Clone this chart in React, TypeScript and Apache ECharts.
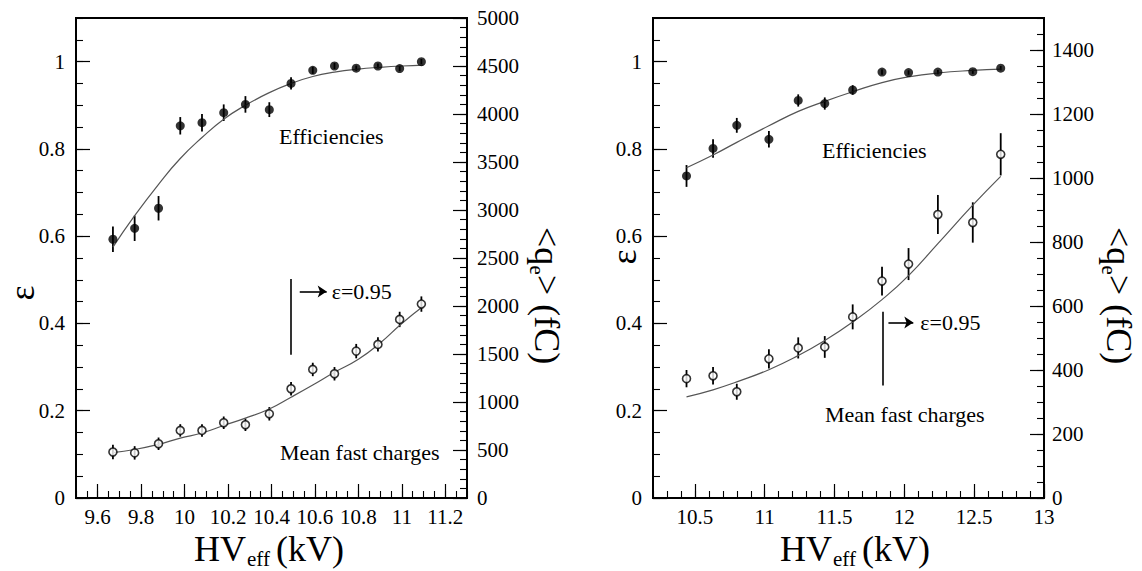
import React, { useEffect, useRef } from "react";
import * as echarts from "echarts";

// ---------- data ----------
// Left panel
const leftX = [9.67, 9.77, 9.88, 9.98, 10.08, 10.18, 10.28, 10.39, 10.49, 10.59, 10.69, 10.79, 10.89, 10.99, 11.09];
const leftEff = [0.593, 0.618, 0.664, 0.853, 0.86, 0.883, 0.902, 0.89, 0.95, 0.98, 0.99, 0.985, 0.99, 0.984, 1.0];
const leftEffErr = [0.029, 0.029, 0.028, 0.02, 0.02, 0.019, 0.019, 0.017, 0.014, 0.008, 0.007, 0.006, 0.006, 0.006, 0.006];
const leftQ = [479, 470, 565, 704, 704, 784, 763, 877, 1138, 1339, 1294, 1530, 1600, 1860, 2020];
const leftQErr = [75, 70, 65, 65, 65, 65, 65, 70, 70, 70, 70, 75, 75, 80, 80];
const leftFitX = [9.67, 9.77, 9.88, 9.98, 10.08, 10.18, 10.28, 10.39, 10.49, 10.59, 10.69, 10.8, 10.9, 11.0, 11.1];
const leftEffFit = [0.575, 0.647, 0.719, 0.778, 0.826, 0.868, 0.9, 0.929, 0.95, 0.966, 0.976, 0.983, 0.987, 0.99, 0.992];
const leftQFit = [473, 505, 559, 623, 677, 755, 832, 927, 1050, 1177, 1309, 1445, 1614, 1818, 2000];

// Right panel
const rightX = [10.44, 10.63, 10.8, 11.03, 11.24, 11.43, 11.63, 11.84, 12.03, 12.24, 12.49, 12.69];
const rightEff = [0.738, 0.801, 0.854, 0.822, 0.911, 0.904, 0.935, 0.976, 0.975, 0.976, 0.977, 0.985];
const rightEffErr = [0.025, 0.021, 0.017, 0.019, 0.014, 0.014, 0.011, 0.006, 0.005, 0.005, 0.005, 0.005];
const rightQ = [373, 382, 332, 435, 469, 472, 566, 678, 731, 886, 861, 1074];
const rightQErr = [27, 27, 25, 30, 33, 34, 39, 45, 50, 61, 63, 66];
const rightEffFit = [0.757, 0.786, 0.815, 0.853, 0.886, 0.909, 0.931, 0.952, 0.965, 0.974, 0.98, 0.983];
const rightQFit = [316, 338, 363, 401, 445, 492, 550, 620, 695, 795, 915, 1005];

// Axis ranges
const leftXRange = [9.5, 11.3];
const rightXRange = [10.2, 13];
const effRange = [0, 1.1];
const leftQRange = [0, 5000];
const rightQRange = [0, 1500];

// Tick labels
const leftXTicks = [9.6, 9.8, 10, 10.2, 10.4, 10.6, 10.8, 11, 11.2];
const rightXTicks = [10.5, 11, 11.5, 12, 12.5, 13];
const effTicks = [0, 0.2, 0.4, 0.6, 0.8, 1];
const leftQTicks = [0, 500, 1000, 1500, 2000, 2500, 3000, 3500, 4000, 4500, 5000];
const rightQTicks = [0, 200, 400, 600, 800, 1000, 1200, 1400];

// Annotation (ε = 0.95 marker) values
const leftMark = { x: 10.49, yTop: 0.502, yBot: 0.328, arrowY: 0.473, arrowX0: 10.53, arrowX1: 10.654 };
const rightMark = { x: 11.844, yTop: 0.427, yBot: 0.258, arrowY: 0.402, arrowX0: 11.886, arrowX1: 12.064 };

const FONT = "Liberation Serif";
const TICK_FS = 21;

function majorAxis(grid: number, range: number[], ticks: number[], position: string) {
  return {
    type: "value",
    gridIndex: grid,
    min: range[0],
    max: range[1],
    position,
    axisLine: { show: true, onZero: false, lineStyle: { color: "#000", width: 2 } },
    axisTick: { show: true, inside: true, length: 14, customValues: ticks, lineStyle: { color: "#000", width: 1.2 } },
    axisLabel: { show: false },
    splitLine: { show: false },
    minorTick: { show: false },
  };
}

function minorAxis(grid: number, range: number[], interval: number, position: string) {
  return {
    type: "value",
    gridIndex: grid,
    min: range[0],
    max: range[1],
    interval,
    position,
    axisLine: { show: false, onZero: false },
    axisTick: { show: true, inside: true, length: 7, lineStyle: { color: "#000", width: 1.1 } },
    axisLabel: { show: false },
    splitLine: { show: false },
  };
}

function errSeries(xi: number, yi: number, xs: number[], ys: number[], es: number[]) {
  return {
    type: "custom",
    xAxisIndex: xi,
    yAxisIndex: yi,
    z: 2,
    silent: true,
    encode: { x: 0, y: 1 },
    data: xs.map((x, i) => [x, ys[i], es[i]]),
    renderItem: (params: any, api: any) => {
      const x = api.value(0);
      const y = api.value(1);
      const e = api.value(2);
      const p1 = api.coord([x, y - e]);
      const p2 = api.coord([x, y + e]);
      return {
        type: "line",
        shape: { x1: p1[0], y1: p1[1], x2: p2[0], y2: p2[1] },
        style: { stroke: "#000", lineWidth: 1.8 },
      };
    },
  };
}

function fitSeries(xi: number, yi: number, xs: number[], ys: number[]) {
  return {
    type: "line",
    xAxisIndex: xi,
    yAxisIndex: yi,
    z: 3,
    silent: true,
    smooth: true,
    showSymbol: false,
    symbol: "none",
    lineStyle: { color: "#555", width: 1.2 },
    data: xs.map((x, i) => [x, ys[i]]),
  };
}

function pointSeries(xi: number, yi: number, xs: number[], ys: number[], open: boolean, mark?: any) {
  const s: any = {
    type: "scatter",
    xAxisIndex: xi,
    yAxisIndex: yi,
    z: 4,
    silent: true,
    symbol: "circle",
    symbolSize: open ? 8 : 9,
    itemStyle: open ? { color: "#fff", borderColor: "#000", borderWidth: 1.6 } : { color: "#000" },
    data: xs.map((x, i) => [x, ys[i]]),
  };
  if (mark) {
    s.markLine = {
      silent: true,
      symbol: ["none", "none"],
      symbolSize: 9,
      lineStyle: { color: "#000", width: 1.6, type: "solid" },
      label: { show: false },
      data: [
        [{ coord: [mark.x, mark.yTop] }, { coord: [mark.x, mark.yBot] }],
        [
          { coord: [mark.arrowX0, mark.arrowY], symbol: "none" },
          { coord: [mark.arrowX1, mark.arrowY], symbol: "arrow" },
        ],
      ],
    };
  }
  return s;
}

function txt(text: string, x: number, y: number, size: number, align = "left", rotation = 0) {
  return {
    type: "text",
    x,
    y,
    rotation,
    silent: true,
    style: {
      text,
      fill: "#000",
      font: `${size}px "${FONT}"`,
      align,
      verticalAlign: "middle",
    },
  };
}

function qTitle(x: number, y: number) {
  return {
    type: "group",
    x,
    y,
    rotation: -Math.PI / 2,
    silent: true,
    children: [txt("<q", 0, 0, 36), txt("e", 38.5, 10, 21), txt("> (fC)", 48, 0, 36)],
  };
}

const baseGraphic = [
  // y titles (epsilon)
  txt("ε", 22, 293, 36, "center", Math.PI / 2),
  txt("ε", 624, 257, 36, "center", Math.PI / 2),
  // right titles
  qTitle(547, 227),
  qTitle(1119, 227),
  // x titles
  txt("HV", 194, 549, 36),
  txt("eff", 247, 559, 21),
  txt("(kV)", 276, 549, 36),
  txt("HV", 780, 549, 36),
  txt("eff", 833, 559, 21),
  txt("(kV)", 862, 549, 36),
  // curve labels
  txt("Efficiencies", 279, 136, 22),
  txt("Mean fast charges", 280, 452, 22),
  txt("Efficiencies", 822, 150, 22),
  txt("Mean fast charges", 825, 414, 22),
];

function buildOption() {
  return {
    animation: false,
    backgroundColor: "#fff",
    textStyle: { fontFamily: FONT },
    grid: [
      { left: 76, top: 18, width: 391, height: 480, show: true, borderColor: "#000", borderWidth: 2, backgroundColor: "transparent" },
      { left: 653, top: 18, width: 391, height: 480, show: true, borderColor: "#000", borderWidth: 2, backgroundColor: "transparent" },
    ],
    xAxis: [
      majorAxis(0, leftXRange, leftXTicks, "bottom"),
      minorAxis(0, leftXRange, 0.05, "bottom"),
      majorAxis(1, rightXRange, rightXTicks, "bottom"),
      minorAxis(1, rightXRange, 0.1, "bottom"),
    ],
    yAxis: [
      majorAxis(0, effRange, effTicks, "left"),
      minorAxis(0, effRange, 0.05, "left"),
      majorAxis(0, leftQRange, leftQTicks, "right"),
      minorAxis(0, leftQRange, 100, "right"),
      majorAxis(1, effRange, effTicks, "left"),
      minorAxis(1, effRange, 0.05, "left"),
      majorAxis(1, rightQRange, rightQTicks, "right"),
      minorAxis(1, rightQRange, 50, "right"),
    ],
    series: [
      errSeries(0, 0, leftX, leftEff, leftEffErr),
      fitSeries(0, 0, leftFitX, leftEffFit),
      pointSeries(0, 0, leftX, leftEff, false, leftMark),
      errSeries(0, 2, leftX, leftQ, leftQErr),
      fitSeries(0, 2, leftFitX, leftQFit),
      pointSeries(0, 2, leftX, leftQ, true),

      errSeries(2, 4, rightX, rightEff, rightEffErr),
      fitSeries(2, 4, rightX, rightEffFit),
      pointSeries(2, 4, rightX, rightEff, false, rightMark),
      errSeries(2, 6, rightX, rightQ, rightQErr),
      fitSeries(2, 6, rightX, rightQFit),
      pointSeries(2, 6, rightX, rightQ, true),
    ],
    graphic: baseGraphic,
  };
}

// Tick labels placed with the axes' own scales (convertToPixel)
function tickLabels(chart: any) {
  const out: any[] = [];
  const px = (finder: any, v: number) => chart.convertToPixel(finder, v) as number;
  const panels = [
    { xi: 0, yEff: 0, yQ: 2, xr: leftXRange, xt: leftXTicks, qt: leftQTicks, qGap: 10, mark: leftMark, markGap: 5 },
    { xi: 2, yEff: 4, yQ: 6, xr: rightXRange, xt: rightXTicks, qt: rightQTicks, qGap: 8, mark: rightMark, markGap: 7 },
  ];
  panels.forEach((p) => {
    const bottom = px({ yAxisIndex: p.yEff }, effRange[0]);
    const left = px({ xAxisIndex: p.xi }, p.xr[0]);
    const right = px({ xAxisIndex: p.xi }, p.xr[1]);
    p.xt.forEach((v) => out.push(txt(String(v), px({ xAxisIndex: p.xi }, v), bottom + 19, TICK_FS, "center")));
    effTicks.forEach((v) => out.push(txt(String(v), left - 11, px({ yAxisIndex: p.yEff }, v), TICK_FS, "right")));
    p.qt.forEach((v) => out.push(txt(String(v), right + p.qGap, px({ yAxisIndex: p.yQ }, v), TICK_FS, "left")));
    out.push(
      txt("ε=0.95", px({ xAxisIndex: p.xi }, p.mark.arrowX1) + p.markGap, px({ yAxisIndex: p.yEff }, p.mark.arrowY), 22, "left")
    );
  });
  return out;
}

export default function App() {
  const ref = useRef<HTMLDivElement>(null);
  useEffect(() => {
    if (!ref.current) return;
    const chart = echarts.init(ref.current, null, { renderer: "svg" });
    chart.setOption(buildOption() as any);
    chart.setOption({ graphic: baseGraphic.concat(tickLabels(chart)) } as any);
    return () => chart.dispose();
  }, []);
  return (
    <div
      ref={ref}
      style={{ position: "fixed", left: 0, top: 0, width: 1142, height: 571, background: "#fff" }}
    />
  );
}
